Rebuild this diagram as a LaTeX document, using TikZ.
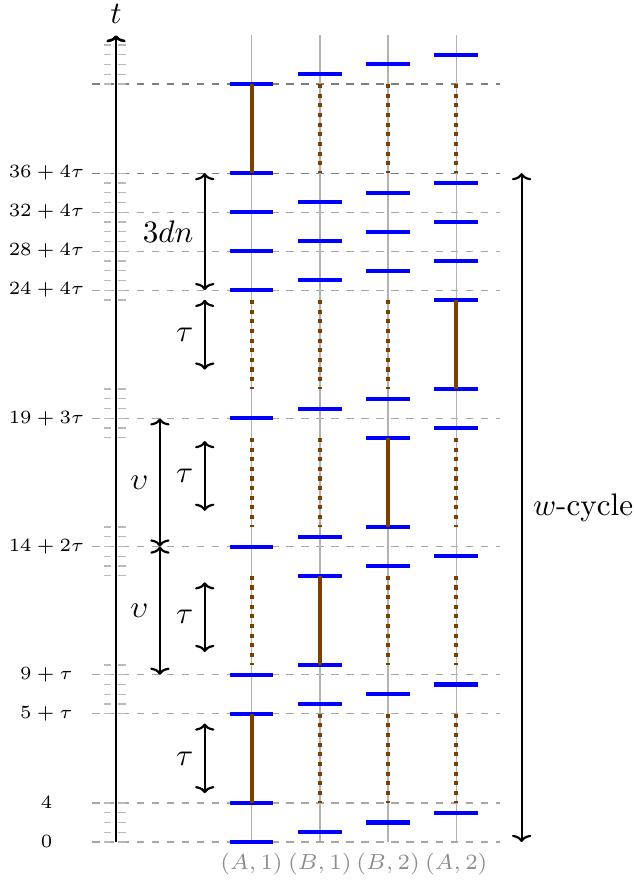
\documentclass[tikz,border=0pt]{standalone}
\usetikzlibrary{arrows.meta}
\definecolor{busbrown}{RGB}{123,63,0}
\newcommand{\tauval}{8.15}

\begin{document}
\begin{tikzpicture}[x=0.11cm, y=0.11cm,
    >={To[length=2.3pt,width=6.2pt]},
    grid/.style={gray!70, dash pattern=on 2.4pt off 2.4pt},
    tickmark/.style={gray!55, dash pattern=on 2.4pt off 2.4pt},
    lane/.style={gray!60, line width=0.5pt},
    slot/.style={blue, line width=1.3pt},
    busy/.style={busbrown, line width=1.3pt},
    idle/.style={busbrown, line width=1.3pt, dash pattern=on 1.3pt off 1.8pt},
    span/.style={<->, line width=0.7pt}]
    \useasboundingbox (-11.9,-3.9) rectangle (53.03,86.36);

    % slot times of (A,1)
    \foreach \n/\k/\lab/\col in {0/0/0/gray!70, 4/0/4/gray!70, 5/1/5+\tau/gray!70, 9/1/9+\tau/gray!70,
        14/2/14+2\tau/gray!70, 19/3/19+3\tau/gray!70, 24/4/24+4\tau/gray!70, 28/4/28+4\tau/gray!70,
        32/4/32+4\tau/gray!70, 36/4/36+4\tau/gray}{
        \draw[grid, \col] (-2.46,{\n+\k*\tauval}) -- (39.4,{\n+\k*\tauval});
        \node[font=\fontsize{6}{7}\selectfont] (mark\n) at (-7.13,{\n+\k*\tauval}) {$\lab$};
    }
    \draw[grid, gray] (-2.46,{37+5*\tauval}) -- (39.4,{37+5*\tauval});

    % unit ticks
    \foreach \a/\b/\k in {0/4/0, 5/10/1, 11/16/2, 17/22/3, 23/36/4, 37/41/5}
        \foreach \n in {\a,...,\b}
            \draw[tickmark] (-1.28,{\n+\k*\tauval}) -- (1.13,{\n+\k*\tauval});

    % time axis
    \draw[->, line width=0.85pt] (0,0) -- (0,{42+5*\tauval}) node[above] (taxis) {$t$};

    % lanes
    \foreach \x/\name [count=\i] in {13.9/{(A,1)}, 20.9/{(B,1)}, 27.9/{(B,2)}, 34.9/{(A,2)}}{
        \draw[lane] (\x,0) -- (\x,{42+5*\tauval});
        \node[below, font=\scriptsize, text=gray!90] (lane\i) at (\x,0) {$\name$};
    }

    % slots
    \foreach \x/\slots in {13.9/{0/0,4/0,5/1,9/1,14/2,19/3,24/4,28/4,32/4,36/4,37/5},
        20.9/{1/0,6/1,10/1,11/2,15/2,20/3,25/4,29/4,33/4,38/5},
        27.9/{2/0,7/1,12/2,16/2,17/3,21/3,26/4,30/4,34/4,39/5},
        34.9/{3/0,8/1,13/2,18/3,22/3,23/4,27/4,31/4,35/4,40/5}}
        \foreach \n/\k in \slots
            \draw[slot] ({\x-2.25},{\n+\k*\tauval}) -- ({\x+2.25},{\n+\k*\tauval});

    % transmissions, the others wait
    \foreach \i/\a/\k in {0/4/0, 1/10/1, 2/16/2, 3/22/3, 0/36/4}
        \foreach \j in {0,...,3}{
            \ifnum\i=\j
                \draw[busy] ({13.9+7*\j},{\a+\k*\tauval}) -- ({13.9+7*\j},{\a+1+(\k+1)*\tauval});
            \else
                \draw[idle] ({13.9+7*\j},{\a+1+(\k+1)*\tauval}) -- ({13.9+7*\j},{\a+\k*\tauval});
            \fi
        }

    % durations
    \foreach \k in {0,...,3}
        \draw[span] (9.1,{5+\k*19/3+\k*\tauval}) -- (9.1,{4+\tauval+\k*19/3+\k*\tauval})
            node[midway, left] (tau\k) {$\tau$};
    \draw[span] (9.1,{24+4*\tauval}) -- (9.1,{36+4*\tauval}) node[midway, left] (dn) {$3dn$};
    \draw[span] (4.5,{9+\tauval}) -- (4.5,{14+2*\tauval}) node[midway, left] (ups1) {$\upsilon$};
    \draw[span] (4.5,{14+2*\tauval}) -- (4.5,{19+3*\tauval}) node[midway, left] (ups2) {$\upsilon$};
    \draw[span] (41.6,0) -- (41.6,{36+4*\tauval}) node[midway, right] (cyc) {$w$-cycle};
\end{tikzpicture}
\end{document}
